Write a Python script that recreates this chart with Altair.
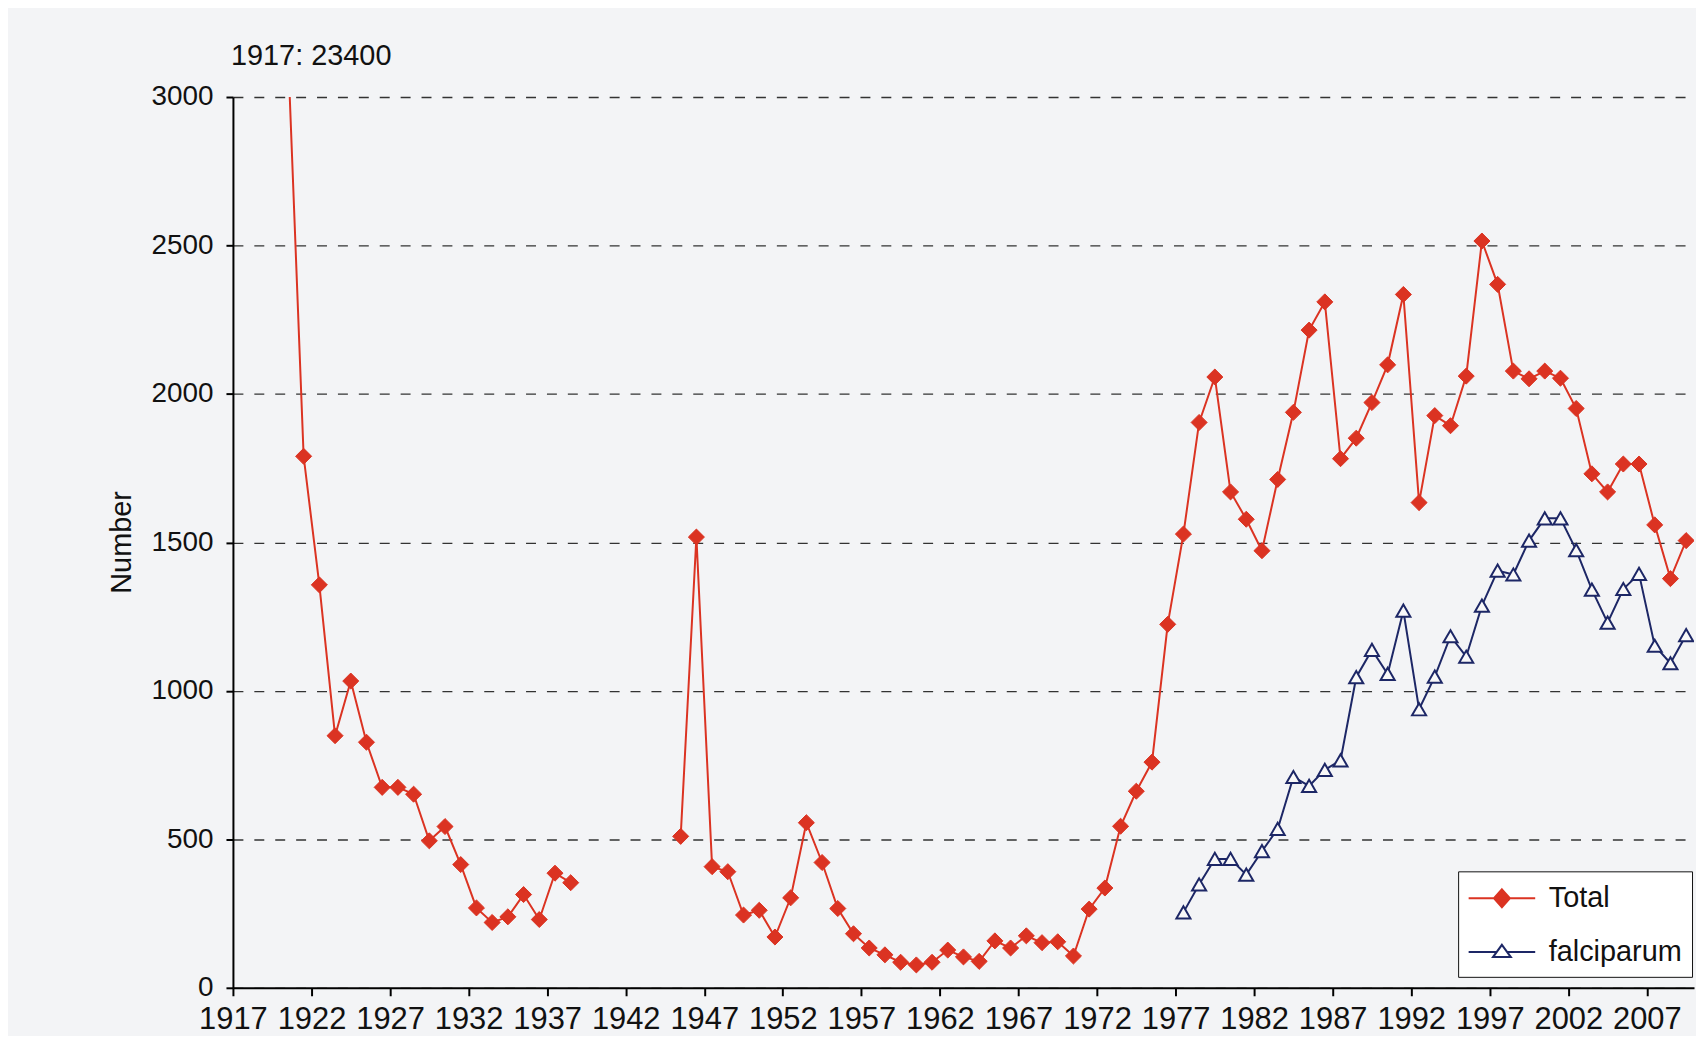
import altair as alt
import pandas as pd

# ---------------- data ----------------
total_years = [1917, 1920, 1921, 1922, 1923, 1924, 1925, 1926, 1927, 1928, 1929,
               1930, 1931, 1932, 1933, 1934, 1935, 1936, 1937, 1938,
               1945, 1946, 1947, 1948, 1949, 1950, 1951, 1952, 1953, 1954,
               1955, 1956, 1957, 1958, 1959, 1960, 1961, 1962, 1963, 1964,
               1965, 1966, 1967, 1968, 1969, 1970, 1971, 1972, 1973, 1974,
               1975, 1976, 1977, 1978, 1979, 1980, 1981, 1982, 1983, 1984,
               1985, 1986, 1987, 1988, 1989, 1990, 1991, 1992, 1993, 1994,
               1995, 1996, 1997, 1998, 1999, 2000, 2001, 2002, 2003, 2004,
               2005, 2006, 2007, 2008, 2009]
total_values = [23400, 3160, 1790, 1357, 849, 1033, 827, 675, 675, 652, 495,
                543, 415, 269, 220, 239, 314, 230, 386, 354,
                510, 1518, 408, 391, 245, 261, 171, 303, 556, 422,
                267, 182, 134, 111, 86, 77, 86, 127, 104, 89,
                158, 134, 175, 152, 155, 107, 265, 336, 544, 662,
                760, 1224, 1528, 1904, 2057, 1670, 1578, 1472, 1712, 1938,
                2215, 2310, 1782, 1851, 1971, 2098, 2335, 1634, 1927, 1893,
                2060, 2515, 2369, 2077, 2051, 2077, 2053, 1951, 1731, 1670,
                1764, 1764, 1559, 1378, 1506]
# the series is interrupted between 1938 and 1945
total_break_after = 1938

falc_years = [1977, 1978, 1979, 1980, 1981, 1982, 1983, 1984, 1985, 1986,
              1987, 1988, 1989, 1990, 1991, 1992, 1993, 1994, 1995, 1996,
              1997, 1998, 1999, 2000, 2001, 2002, 2003, 2004, 2005, 2006,
              2007, 2008, 2009]
falc_values = [254, 348, 434, 434, 381, 460, 535, 710, 680, 734,
               766, 1046, 1138, 1057, 1270, 938, 1048, 1184, 1115, 1287,
               1405, 1392, 1506, 1581, 1581, 1474, 1341, 1230, 1343, 1394,
               1152, 1093, 1188]

series_names = ["Total", "falciparum"]
x_tick_labels = [1917, 1922, 1927, 1932, 1937, 1942, 1947, 1952, 1957, 1962,
                 1967, 1972, 1977, 1982, 1987, 1992, 1997, 2002, 2007]
y_ticks = [0, 500, 1000, 1500, 2000, 2500, 3000]
note_year = 1917
note_value = 23400

# ---------------- styling ----------------
FONT = "Liberation Sans"
RED = "#db3322"
NAVY = "#1d2766"
BG = "#f3f4f6"
OPEN_FILL = "#f8f8f8"

rows = []
for y, v in zip(total_years, total_values):
    rows.append({"year": y, "value": v, "series": "Total",
                 "seg": "Total-a" if y <= total_break_after else "Total-b"})
for y, v in zip(falc_years, falc_values):
    rows.append({"year": y, "value": v, "series": "falciparum", "seg": "falc"})
df = pd.DataFrame(rows)

# category-style axis: each year sits in the middle of its slot
tick_positions = [t - 0.5 for t in x_tick_labels]
x_domain = [x_tick_labels[0] - 0.5, max(total_years) + 0.5]

x_enc = alt.X("year:Q",
              scale=alt.Scale(domain=x_domain, nice=False, zero=False),
              axis=alt.Axis(values=tick_positions,
                            labelExpr="format(datum.value + 0.5, 'd')",
                            title=None, grid=False, tickSize=8, tickWidth=2,
                            tickColor="black", domainColor="black",
                            domainWidth=2, labelFont=FONT, labelFontSize=31,
                            labelColor="#111", labelPadding=9,
                            labelFlush=False, labelOverlap=False))
y_enc = alt.Y("value:Q",
              scale=alt.Scale(domain=[0, 3000], nice=False, zero=True),
              axis=alt.Axis(values=y_ticks, format="d", title="Number",
                            titleFont=FONT, titleFontSize=29,
                            titleFontWeight="normal",
                            titleColor="#111", titleAngle=-90,
                            titleX=-112, titleY=447, titleAlign="center",
                            titleBaseline="middle",
                            grid=True, gridDash=[10, 11], gridColor="#333333",
                            gridWidth=1.3, tickSize=7, tickWidth=2,
                            tickColor="black", domainColor="black",
                            domainWidth=2, labelFont=FONT, labelFontSize=28,
                            labelColor="#111", labelPadding=13))

# legend glyphs: line segment with the marker in the middle
TOTAL_SYM = "M-2.09,0H2.09M0,-0.56L0.5,0L0,0.56L-0.5,0Z"
FALC_SYM = "M-2.09,0H-0.3M0.3,0H2.09M0,-0.45L0.56,0.32L-0.56,0.32Z"

total_line = alt.Chart(df).transform_filter(alt.datum.series == "Total").mark_line(
    clip=True, strokeWidth=2, color=RED).encode(x=x_enc, y=y_enc, detail="seg:N")

falc_line = alt.Chart(df).transform_filter(alt.datum.series == "falciparum").mark_line(
    clip=True, strokeWidth=2, color=NAVY).encode(x=x_enc, y=y_enc)

total_pts = alt.Chart(df).transform_filter(alt.datum.series == "Total").mark_point(
    clip=True, opacity=1, shape="diamond", filled=True, fill=RED, stroke=RED,
    strokeWidth=1, size=260).encode(x=x_enc, y=y_enc)

falc_pts = alt.Chart(df).transform_filter(alt.datum.series == "falciparum").mark_point(
    clip=True, opacity=1, shape="triangle-up", fill=OPEN_FILL, stroke=NAVY,
    strokeWidth=2, size=200).encode(x=x_enc, y=y_enc)

# invisible layer whose only job is to provide the boxed legend
legend = alt.Legend(
    title=None, orient="none", legendX=1231, legendY=778, direction="vertical",
    fillColor="white", strokeColor="#111", padding=10, cornerRadius=0,
    labelFont=FONT, labelFontSize=29, labelColor="#111",
    labelExpr="datum.label + '\u00a0\u00a0'",
    symbolSize=1024, symbolStrokeWidth=2, symbolOffset=17, labelOffset=30,
    rowPadding=22, symbolOpacity=1)

legend_layer = alt.Chart(df).mark_point(opacity=0, clip=True).encode(
    x=x_enc, y=y_enc,
    shape=alt.Shape("series:N",
                    scale=alt.Scale(domain=series_names, range=[TOTAL_SYM, FALC_SYM]),
                    legend=legend),
    fill=alt.Fill("series:N",
                  scale=alt.Scale(domain=series_names, range=[RED, "white"]),
                  legend=legend),
    stroke=alt.Stroke("series:N",
                      scale=alt.Scale(domain=series_names, range=[RED, NAVY]),
                      legend=legend),
)

note_df = pd.DataFrame({"label": [f"{note_year}: {note_value}"]})
note = alt.Chart(note_df).mark_text(
    align="left", baseline="alphabetic", font=FONT, fontSize=29,
    color="#111", clip=False
).encode(text="label:N", x=alt.value(-2), y=alt.value(-32))

chart = alt.layer(legend_layer, total_line, falc_line, total_pts, falc_pts,
                  note).properties(
    width=1468, height=895,
    padding={"left": 226, "top": 87, "right": 2, "bottom": 46},
    autosize=alt.AutoSizeParams(type="none"),
    background=BG,
).configure_view(strokeWidth=0)

chart.save("out.html", embed_options={"renderer": "svg", "actions": False})
